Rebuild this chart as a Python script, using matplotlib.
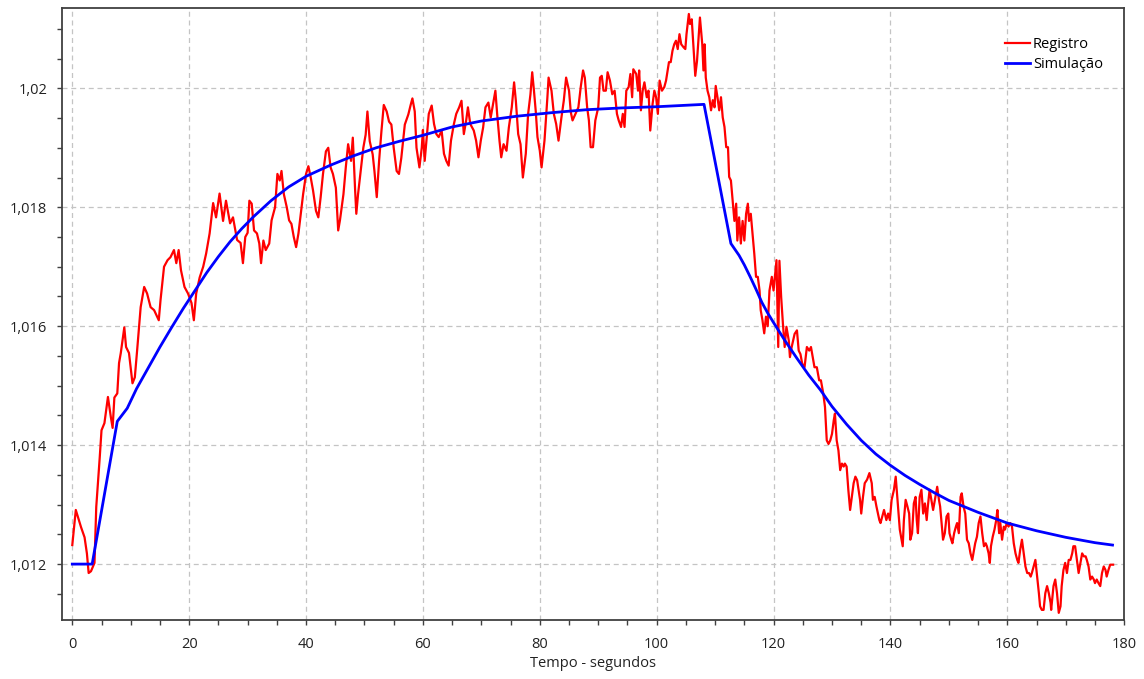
import matplotlib
matplotlib.use("Agg")
import matplotlib.pyplot as plt
from matplotlib.ticker import MultipleLocator, FuncFormatter

# Registro (medido) - tempo em s, valor
reg_t = [
    0.0, 0.6, 1.5, 2.1, 2.5, 2.8, 3.2, 3.8, 4.1, 4.7, 5.0, 5.5, 6.1, 6.6, 6.9, 7.2, 7.7, 8.0, 8.3, 8.9,
    9.2, 9.7, 10.3, 10.7, 11.1, 11.7, 12.3, 12.8, 13.4, 14.0, 14.8, 15.1, 15.7, 16.3, 16.8, 17.4, 17.8, 18.2, 18.6, 19.2,
    19.8, 20.4, 20.8, 21.2, 21.8, 22.4, 22.9, 23.5, 24.1, 24.6, 25.2, 25.8, 26.3, 27.0, 27.5, 28.2, 28.8, 29.2, 29.6, 30.0,
    30.3, 30.7, 31.1, 31.6, 32.0, 32.3, 32.7, 33.1, 33.7, 34.1, 34.7, 35.1, 35.5, 35.8, 36.2, 36.7, 37.1, 37.5, 37.9, 38.3,
    38.7, 39.1, 39.5, 40.0, 40.4, 40.8, 41.2, 41.7, 42.1, 42.5, 42.9, 43.4, 43.8, 44.2, 44.6, 45.1, 45.5, 45.8, 46.4, 46.8,
    47.2, 47.7, 48.0, 48.4, 48.6, 48.9, 49.3, 49.8, 50.2, 50.5, 50.9, 51.4, 51.7, 52.1, 52.5, 52.9, 53.3, 53.8, 54.2, 54.6,
    55.0, 55.5, 55.9, 56.3, 56.9, 57.5, 57.9, 58.2, 58.6, 58.9, 59.4, 59.8, 60.0, 60.3, 61.0, 61.5, 61.9, 62.3, 62.7, 63.2,
    63.6, 64.0, 64.4, 64.8, 65.3, 65.7, 66.2, 66.6, 67.0, 67.4, 67.7, 68.1, 68.7, 69.1, 69.5, 69.9, 70.3, 70.7, 71.2, 71.6,
    72.0, 72.4, 72.7, 73.1, 73.4, 73.8, 74.3, 74.7, 75.2, 75.6, 75.9, 76.3, 76.7, 77.1, 77.6, 78.0, 78.4, 78.7, 79.0, 79.3,
    79.6, 80.0, 80.3, 80.8, 81.3, 81.5, 82.0, 82.4, 82.8, 83.2, 83.7, 84.1, 84.5, 85.0, 85.3, 85.6, 86.1, 86.6, 87.0, 87.4,
    87.7, 88.1, 88.4, 88.7, 89.1, 89.5, 90.0, 90.3, 90.6, 90.9, 91.3, 91.6, 92.0, 92.4, 92.8, 93.2, 93.5, 93.9, 94.2, 94.5,
    94.8, 95.2, 95.5, 95.8, 96.0, 96.5, 96.8, 97.0, 97.3, 97.6, 97.9, 98.3, 98.6, 98.9, 99.3, 99.6, 99.9, 100.2, 100.5, 100.9,
    101.3, 101.6, 102.1, 102.4, 102.7, 103.0, 103.3, 103.6, 103.9, 104.2, 104.6, 104.9, 105.1, 105.5, 105.7, 106.0, 106.3, 106.6, 106.9, 107.2,
    107.4, 107.8, 108.0, 108.2, 108.4, 108.7, 109.0, 109.3, 109.6, 109.9, 110.1, 110.4, 110.7, 111.0, 111.3, 111.6, 111.9, 112.2, 112.4, 112.7,
    113.0, 113.3, 113.6, 113.8, 114.1, 114.4, 114.7, 115.0, 115.3, 115.6, 115.8, 116.1, 116.4, 116.7, 117.0, 117.3, 117.6, 117.8, 118.1, 118.4,
    118.7, 119.0, 119.3, 119.7, 120.0, 120.5, 120.8, 121.0, 121.3, 121.6, 121.9, 122.2, 122.6, 122.8, 123.1, 123.6, 124.0, 124.3, 124.6, 124.9,
    125.3, 125.7, 126.1, 126.4, 126.7, 127.0, 127.4, 127.8, 128.1, 128.5, 128.8, 129.1, 129.4, 129.7, 130.0, 130.3, 130.5, 130.8, 131.1, 131.4,
    131.7, 132.0, 132.2, 132.5, 132.8, 133.1, 133.4, 133.7, 134.0, 134.3, 134.8, 135.0, 135.3, 135.6, 136.0, 136.4, 136.8, 137.0, 137.3, 137.6,
    138.1, 138.3, 138.6, 138.9, 139.3, 139.6, 139.9, 140.2, 140.6, 140.9, 141.3, 141.6, 141.9, 142.1, 142.3, 142.6, 142.9, 143.2, 143.4, 143.7,
    144.0, 144.3, 144.5, 144.7, 145.0, 145.3, 145.6, 145.9, 146.2, 146.4, 146.7, 147.0, 147.3, 147.6, 148.0, 148.3, 148.5, 148.8, 149.0, 149.3,
    149.6, 149.9, 150.1, 150.4, 150.6, 150.9, 151.2, 151.4, 151.7, 152.0, 152.2, 152.5, 152.8, 153.1, 153.4, 153.7, 154.0, 154.3, 154.5, 154.8,
    155.1, 155.4, 155.7, 156.0, 156.3, 156.5, 156.8, 157.0, 157.2, 157.5, 157.8, 158.1, 158.3, 158.6, 158.8, 159.1, 159.4, 159.6, 159.9, 160.2,
    160.5, 160.8, 161.1, 161.4, 161.7, 161.9, 162.2, 162.5, 162.8, 163.1, 163.4, 163.7, 164.0, 164.2, 164.5, 164.8, 165.1, 165.4, 165.6, 165.9,
    166.2, 166.5, 166.8, 167.1, 167.4, 167.5, 167.9, 168.2, 168.5, 168.8, 169.1, 169.3, 169.6, 169.9, 170.2, 170.5, 170.8, 171.1, 171.3, 171.6,
    171.9, 172.2, 172.5, 172.8, 173.1, 173.4, 173.6, 173.9, 174.2, 174.5, 174.8, 175.0, 175.3, 175.6, 175.9, 176.2, 176.5, 176.8, 177.0, 177.3,
    177.6, 178.1,
]
reg_v = [
    1.01232, 1.01291, 1.01262, 1.01245, 1.01218, 1.01185, 1.01188, 1.01202, 1.01296, 1.01380, 1.01425, 1.01437, 1.01481, 1.01447, 1.01429, 1.01480, 1.01487, 1.01538, 1.01555, 1.01598,
    1.01565, 1.01555, 1.01504, 1.01514, 1.01560, 1.01632, 1.01666, 1.01655, 1.01632, 1.01627, 1.01610, 1.01644, 1.01700, 1.01711, 1.01716, 1.01728, 1.01706, 1.01728, 1.01694, 1.01666,
    1.01655, 1.01639, 1.01610, 1.01655, 1.01682, 1.01700, 1.01722, 1.01756, 1.01807, 1.01783, 1.01823, 1.01777, 1.01811, 1.01773, 1.01783, 1.01745, 1.01740, 1.01706, 1.01750, 1.01757,
    1.01811, 1.01806, 1.01761, 1.01756, 1.01739, 1.01706, 1.01744, 1.01728, 1.01739, 1.01778, 1.01800, 1.01856, 1.01845, 1.01861, 1.01822, 1.01800, 1.01778, 1.01772, 1.01750, 1.01733,
    1.01756, 1.01789, 1.01822, 1.01856, 1.01869, 1.01850, 1.01828, 1.01794, 1.01783, 1.01817, 1.01856, 1.01894, 1.01900, 1.01867, 1.01856, 1.01833, 1.01761, 1.01778, 1.01822, 1.01867,
    1.01906, 1.01878, 1.01917, 1.01828, 1.01789, 1.01822, 1.01856, 1.01900, 1.01922, 1.01961, 1.01911, 1.01889, 1.01861, 1.01817, 1.01878, 1.01928, 1.01972, 1.01961, 1.01944, 1.01939,
    1.01900, 1.01861, 1.01856, 1.01883, 1.01939, 1.01956, 1.01972, 1.01983, 1.01961, 1.01900, 1.01867, 1.01900, 1.01930, 1.01878, 1.01957, 1.01971, 1.01940, 1.01923, 1.01918, 1.01929,
    1.01890, 1.01878, 1.01870, 1.01912, 1.01940, 1.01957, 1.01968, 1.01979, 1.01923, 1.01946, 1.01968, 1.01940, 1.01929, 1.01912, 1.01884, 1.01912, 1.01934, 1.01968, 1.01976, 1.01951,
    1.01974, 1.01996, 1.01957, 1.01912, 1.01884, 1.01906, 1.01895, 1.01934, 1.01968, 1.02010, 1.01979, 1.01923, 1.01906, 1.01850, 1.01890, 1.01957, 1.01990, 1.02027, 1.01996, 1.01962,
    1.01918, 1.01895, 1.01867, 1.01912, 1.01985, 1.02018, 1.01996, 1.01957, 1.01940, 1.01912, 1.01951, 1.01979, 1.02018, 1.01996, 1.01960, 1.01946, 1.01957, 1.01968, 1.02002, 1.02030,
    1.02018, 1.01968, 1.01946, 1.01901, 1.01901, 1.01946, 1.01968, 1.02018, 1.02021, 1.01996, 1.01996, 1.02027, 1.02013, 1.01990, 1.01996, 1.01957, 1.01946, 1.01935, 1.01957, 1.01935,
    1.01996, 1.02002, 1.02024, 1.01985, 1.02032, 1.02024, 1.01996, 1.02030, 1.01963, 1.01996, 1.02010, 1.01985, 1.01996, 1.01929, 1.01974, 1.01996, 1.01985, 1.01957, 1.02013, 1.01996,
    1.02002, 1.02013, 1.02044, 1.02044, 1.02063, 1.02074, 1.02080, 1.02066, 1.02091, 1.02074, 1.02069, 1.02066, 1.02091, 1.02125, 1.02108, 1.02116, 1.02069, 1.02021, 1.02046, 1.02091,
    1.02119, 1.02074, 1.02030, 1.02074, 1.02018, 1.01996, 1.01985, 1.01963, 1.01980, 1.01968, 1.02004, 1.01985, 1.01963, 1.01985, 1.01951, 1.01935, 1.01901, 1.01901, 1.01851, 1.01845,
    1.01811, 1.01777, 1.01806, 1.01744, 1.01783, 1.01739, 1.01777, 1.01744, 1.01789, 1.01806, 1.01777, 1.01789, 1.01755, 1.01722, 1.01683, 1.01683, 1.01660, 1.01627, 1.01610, 1.01588,
    1.01616, 1.01600, 1.01660, 1.01683, 1.01660, 1.01711, 1.01565, 1.01710, 1.01649, 1.01604, 1.01565, 1.01599, 1.01576, 1.01548, 1.01565, 1.01587, 1.01593, 1.01559, 1.01553, 1.01537,
    1.01531, 1.01565, 1.01559, 1.01565, 1.01548, 1.01531, 1.01531, 1.01509, 1.01509, 1.01487, 1.01464, 1.01408, 1.01402, 1.01408, 1.01419, 1.01442, 1.01453, 1.01408, 1.01391, 1.01358,
    1.01369, 1.01364, 1.01369, 1.01364, 1.01324, 1.01291, 1.01313, 1.01336, 1.01347, 1.01341, 1.01308, 1.01285, 1.01313, 1.01336, 1.01342, 1.01353, 1.01336, 1.01308, 1.01313, 1.01297,
    1.01274, 1.01269, 1.01280, 1.01291, 1.01274, 1.01285, 1.01274, 1.01308, 1.01325, 1.01347, 1.01297, 1.01258, 1.01241, 1.01230, 1.01274, 1.01308, 1.01297, 1.01285, 1.01241, 1.01252,
    1.01302, 1.01313, 1.01274, 1.01252, 1.01313, 1.01325, 1.01285, 1.01302, 1.01274, 1.01297, 1.01325, 1.01308, 1.01291, 1.01308, 1.01330, 1.01308, 1.01297, 1.01263, 1.01241, 1.01252,
    1.01280, 1.01285, 1.01252, 1.01241, 1.01235, 1.01252, 1.01263, 1.01269, 1.01252, 1.01313, 1.01319, 1.01297, 1.01285, 1.01241, 1.01235, 1.01218, 1.01207, 1.01224, 1.01235, 1.01246,
    1.01269, 1.01280, 1.01252, 1.01230, 1.01235, 1.01230, 1.01218, 1.01202, 1.01230, 1.01246, 1.01258, 1.01274, 1.01291, 1.01252, 1.01269, 1.01241, 1.01263, 1.01258, 1.01269, 1.01263,
    1.01269, 1.01263, 1.01235, 1.01218, 1.01207, 1.01202, 1.01224, 1.01241, 1.01218, 1.01196, 1.01185, 1.01185, 1.01179, 1.01185, 1.01196, 1.01207, 1.01179, 1.01151, 1.01129, 1.01123,
    1.01123, 1.01151, 1.01163, 1.01151, 1.01135, 1.01123, 1.01163, 1.01174, 1.01151, 1.01118, 1.01129, 1.01163, 1.01190, 1.01202, 1.01185, 1.01207, 1.01207, 1.01218, 1.01230, 1.01230,
    1.01207, 1.01185, 1.01202, 1.01218, 1.01213, 1.01213, 1.01207, 1.01196, 1.01174, 1.01179, 1.01174, 1.01168, 1.01174, 1.01168, 1.01163, 1.01185, 1.01196, 1.01190, 1.01179, 1.01190,
    1.01199, 1.01199,
]

# Simulacao
sim_t = [0.0, 3.4, 7.7, 9.4, 11.0, 13.0, 15.0, 17.0, 19.0, 21.0, 23.0, 25.0, 27.0, 29.0, 31.0, 34.0,
         37.0, 40.0, 44.0, 48.0, 52.0, 56.0, 60.0, 65.0, 70.0, 76.0, 82.0, 88.0, 94.0, 100.0, 108.1,
         112.7, 114.1, 115.0, 116.0, 117.0, 118.0, 119.0, 120.0, 122.0, 124.0, 126.0, 128.0, 130.0,
         132.5, 135.0, 137.5, 140.0, 142.5, 145.0, 147.5, 150.0, 155.0, 160.0, 165.0, 170.0, 175.0, 178.0]
sim_v = [1.01200, 1.01200, 1.01440, 1.01462, 1.01495, 1.01530, 1.01565, 1.01598, 1.01630, 1.01660,
         1.01690, 1.01717, 1.01742, 1.01764, 1.01784, 1.01811, 1.01834, 1.01852, 1.01870, 1.01886,
         1.01900, 1.01911, 1.01921, 1.01935, 1.01945, 1.01953, 1.01959, 1.01964, 1.01967, 1.01969,
         1.01973, 1.01739, 1.01719, 1.01703, 1.01683, 1.01662, 1.01640, 1.01622, 1.01606, 1.01575,
         1.01546, 1.01518, 1.01493, 1.01465, 1.01435, 1.01408, 1.01385, 1.01366, 1.01349, 1.01334,
         1.01320, 1.01307, 1.01287, 1.01269, 1.01256, 1.01245, 1.01236, 1.01232]

plt.rcParams['font.family'] = ['Open Sans', 'DejaVu Sans']

fig = plt.figure(figsize=(11.44, 6.79), dpi=100)
ax = fig.add_axes([0.0542, 0.0869, 0.9285, 0.9013])

ax.plot(reg_t, reg_v, color='#ff0000', lw=1.6, label='Registro')
ax.plot(sim_t, sim_v, color='#0000ff', lw=2.0, label='Simulação')

ax.set_xlim(-1.76, 180)
ax.set_ylim(1.01106, 1.02135)

ax.xaxis.set_major_locator(MultipleLocator(20))
ax.xaxis.set_minor_locator(MultipleLocator(5))
ax.yaxis.set_major_locator(MultipleLocator(0.002))
ax.yaxis.set_minor_locator(MultipleLocator(0.0005))
ax.yaxis.set_major_formatter(FuncFormatter(lambda v, p: '{:g}'.format(round(v, 6)).replace('.', ',')))

ax.grid(True, which='major', color='#c4c4c4', linestyle=(0, (4, 3)), linewidth=0.9)
ax.set_axisbelow(True)

for s in ax.spines.values():
    s.set_color('#404040')
    s.set_linewidth(1.3)

ax.tick_params(which='both', direction='out', color='#404040', labelcolor='#222222',
               labelsize=10.5, length=3.6, width=1)
ax.tick_params(axis='x', which='major', pad=8.5)
ax.tick_params(axis='y', which='major', pad=7)

ax.set_xlabel('Tempo - segundos', fontsize=10.5, color='#222222', labelpad=3)

leg = ax.legend(loc='upper right', frameon=False, fontsize=10.5, handlelength=1.7,
                handletextpad=0.2, labelspacing=0.35, borderpad=0,
                bbox_to_anchor=(0.987, 0.965))

fig.savefig('out.png', dpi=100)
